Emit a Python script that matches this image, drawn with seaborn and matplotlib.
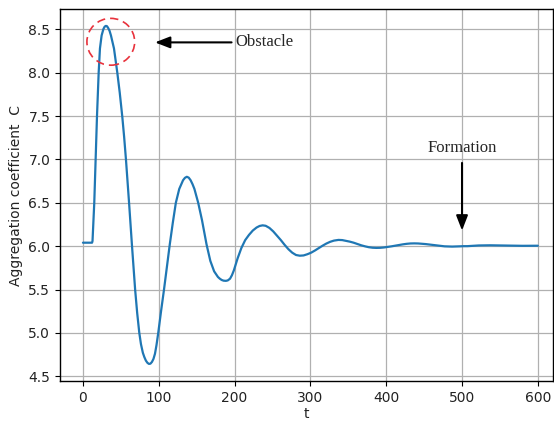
import matplotlib
matplotlib.use("Agg")
import matplotlib.pyplot as plt
from matplotlib.patches import Ellipse
import seaborn as sns
import pandas as pd

# values
t_values = [0, 12, 12.6, 14.9, 16.7, 18.5, 20.7, 22.4, 24.6, 27, 28.5, 30, 31.5, 33, 35,
            36.9, 38.8, 40.9, 43, 45.3, 48.5, 51.9, 54.3, 56.7, 60.8, 64.7, 68.8, 71.5,
            74.3, 76.5, 79, 81, 83, 85, 87, 89, 91, 93, 95, 97, 99.3, 103, 106.9, 110.5,
            114.5, 118.5, 122.5, 127, 132, 134.5, 137, 139.5, 142, 144.5, 147, 152, 157,
            163, 168, 173, 178, 180.5, 183, 185.5, 188.6, 191, 194, 196.5, 199, 204, 209,
            214, 219, 224, 229, 233, 237, 241, 246, 251, 256, 261, 266, 271, 276, 281,
            286, 291, 296, 301, 306, 311, 316, 321, 326, 331, 337, 342, 347, 352, 357,
            362, 367, 372, 377, 382, 387, 392, 397, 402, 407, 412, 417, 422, 427, 432,
            437, 442, 447, 452, 457, 462, 467, 472, 477, 482, 487, 492, 497, 502, 507,
            512, 517, 522, 527, 532, 537, 550, 565, 580, 600]
c_values = [6.04, 6.04, 6.06, 6.5, 7.0, 7.5, 8.0, 8.28, 8.43, 8.505, 8.53, 8.54, 8.538,
            8.52, 8.485, 8.43, 8.36, 8.28, 8.15, 8.0, 7.77, 7.49, 7.26, 7.0, 6.5, 6.0,
            5.5, 5.23, 5.0, 4.87, 4.77, 4.72, 4.68, 4.655, 4.642, 4.645, 4.665, 4.70,
            4.76, 4.86, 5.0, 5.25, 5.5, 5.75, 6.02, 6.27, 6.5, 6.66, 6.76, 6.788, 6.80,
            6.79, 6.76, 6.715, 6.66, 6.50, 6.30, 6.02, 5.83, 5.71, 5.645, 5.625, 5.61,
            5.602, 5.60, 5.605, 5.625, 5.665, 5.72, 5.86, 5.98, 6.07, 6.13, 6.18, 6.215,
            6.233, 6.24, 6.235, 6.21, 6.17, 6.12, 6.07, 6.015, 5.965, 5.925, 5.898, 5.89,
            5.893, 5.907, 5.925, 5.95, 5.978, 6.005, 6.03, 6.05, 6.064, 6.072, 6.07,
            6.061, 6.052, 6.04, 6.025, 6.01, 5.998, 5.988, 5.982, 5.98, 5.981, 5.985,
            5.991, 5.998, 6.006, 6.014, 6.021, 6.027, 6.031, 6.032, 6.031, 6.028, 6.024,
            6.019, 6.013, 6.008, 6.003, 5.998, 5.996, 5.995, 5.996, 5.998, 6.0, 6.0,
            6.003, 6.006, 6.008, 6.009, 6.01, 6.01, 6.008, 6.005, 6.004, 6.005]

y_ticks = [4.5, 5.0, 5.5, 6.0, 6.5, 7.0, 7.5, 8.0, 8.5]
x_ticks = [0, 100, 200, 300, 400, 500, 600]

df = pd.DataFrame({"t": t_values, "C": c_values})

sns.set_style("ticks")
plt.rcParams["font.family"] = ["DejaVu Sans"]

fig = plt.figure(figsize=(5.54, 4.21), dpi=100)
ax = fig.add_axes([60 / 554, 40 / 421, (553 - 60) / 554, (412 - 40) / 421])

sns.lineplot(data=df, x="t", y="C", ax=ax, color="#1f77b4", linewidth=1.6)

ax.set_xticks(x_ticks)
ax.set_yticks(y_ticks)
ax.set_xlim(-30.3, 620)
ax.set_ylim(4.445, 8.735)
ax.grid(True, color="#b0b0b0", linewidth=0.9)
for s in ax.spines.values():
    s.set_visible(True)
    s.set_color("black")
    s.set_linewidth(1.0)
ax.tick_params(axis="both", labelsize=10, direction="out", length=3.5, color="black",
               labelcolor="#222222")
ax.set_xlabel("t", fontsize=10, labelpad=2, color="#222222")
ax.set_ylabel("Aggregation coefficient  C", fontsize=10, color="#222222")

ax.add_patch(Ellipse((36.7, 8.357), 63, 0.54, fill=False, edgecolor="#e8323c",
                     linestyle=(0, (5, 3)), linewidth=1.2, zorder=5))

ax.annotate("", xy=(95, 8.35), xytext=(196, 8.35),
            arrowprops=dict(arrowstyle="-|>,head_length=0.9,head_width=0.35",
                            color="black", lw=1.5, shrinkA=0, shrinkB=0))
ax.text(201, 8.35, "Obstacle", fontsize=12, family="Liberation Serif",
        va="center", ha="left")

ax.annotate("", xy=(500, 6.18), xytext=(500, 6.96),
            arrowprops=dict(arrowstyle="-|>,head_length=0.9,head_width=0.35",
                            color="black", lw=1.5, shrinkA=0, shrinkB=0))
ax.text(500, 7.13, "Formation", fontsize=12, family="Liberation Serif",
        va="center", ha="center")

fig.savefig("out.png", dpi=100)
